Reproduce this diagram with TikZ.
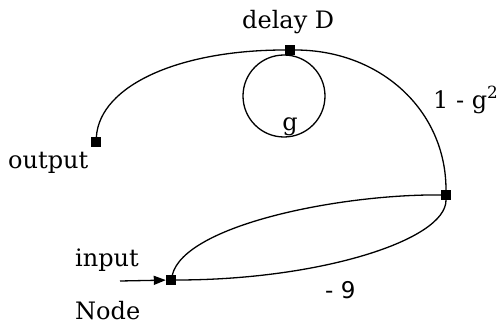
\documentclass[tikz,border=0pt]{standalone}
\usepackage{fontspec}
\setmainfont{DejaVu Serif}
\newfontfamily\labsans{DejaVu Sans}
\usetikzlibrary{arrows.meta}
\tikzset{
  sq/.style={rectangle, fill=black, inner sep=0pt, minimum size=10pt},
  wire/.style={line width=1.3pt},
  lab/.style={inner sep=0pt, anchor=base west, font=\fontsize{24}{28}\selectfont},
}
\begin{document}
\begin{tikzpicture}[x=1pt,y=-1pt]
\useasboundingbox (0,0) rectangle (499,324);
% nodes
\node[sq] (D) at (290,50) {};
\node[sq] (out) at (96,142) {};
\node[sq] (R) at (446,195) {};
\node[sq] (in) at (171,280) {};
\coordinate (src) at (120,281);
% labels
\node[lab] (lD) at (242,28) {delay D};
\node[lab] (lout) at (8,168) {output};
\node[lab] (lin) at (75,266) {input};
\node[lab] (lnode) at (75,319) {Node};
\node[lab] (lg2) at (433,108) {1 - g\textsuperscript{2}};
\node[lab, anchor=base] (lg) at (290,130) {g};
\node[lab, font=\labsans\fontsize{23}{27}\selectfont] (l9) at (325,298) {- 9};
% connectors
\draw[wire] (out) .. controls (100,85) and (180,50) .. (D);
\draw[wire] (D) .. controls (380,50) and (446,110) .. (R);
\draw[wire] (R) .. controls (340,194) and (185,225) .. (in);
\draw[wire] (in) .. controls (320,280) and (446,240) .. (R);
\draw[wire, -{Triangle[length=12pt,width=9pt]}] (src) -- (in);
\draw[wire] (284,96) circle (41pt);
\end{tikzpicture}
\end{document}
